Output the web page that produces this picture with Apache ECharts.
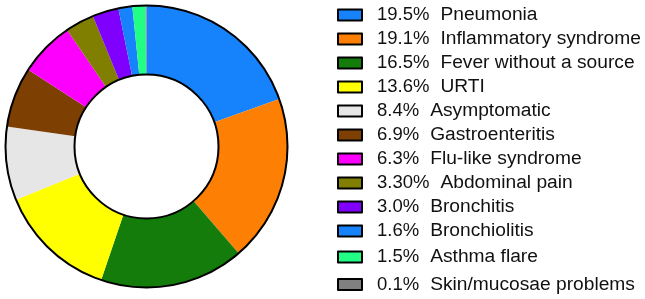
<!DOCTYPE html>
<html>
<head>
<meta charset="utf-8">
<script src="https://cdn.jsdelivr.net/npm/echarts@6/dist/echarts.min.js"></script>
<style>
html,body{margin:0;padding:0;background:#fff;}
#c{width:645px;height:299px;}
</style>
</head>
<body>
<div id="c"></div>
<script>
const categories = ["Pneumonia","Inflammatory syndrome","Fever without a source","URTI","Asymptomatic","Gastroenteritis","Flu-like syndrome","Abdominal pain","Bronchitis","Bronchiolitis","Asthma flare","Skin/mucosae problems"];
const values = [19.5,19.1,16.5,13.6,8.4,6.9,6.3,3.3,3.0,1.6,1.5,0.1];
const pctLabels = ["19.5%","19.1%","16.5%","13.6%","8.4%","6.9%","6.3%","3.30%","3.0%","1.6%","1.5%","0.1%"];
const colors = ["#1682fb","#fd8005","#137c0b","#ffff00","#e6e6e6","#7d3f02","#fd00fd","#807f02","#8000fe","#1682fb","#21fd85","#808080"];

const chart = echarts.init(document.getElementById('c'), null, {renderer:'canvas'});
const font = "'Liberation Sans', Arial, sans-serif";
const labelOf = {};
categories.forEach((c,i)=>labelOf[c]=pctLabels[i]);

function mkLegend(names, top){
  return {
    show:true, orient:'vertical', left:337, top:top, padding:0, itemGap:0,
    itemWidth:24, itemHeight:11, icon:'rect',
    itemStyle:{borderColor:'#000', borderWidth:2},
    selectedMode:false,
    data:names,
    formatter:(n)=>'{p|'+labelOf[n]+'}{n|'+n+'}',
    textStyle:{
      fontFamily:font, fontSize:18, color:'#111', lineHeight:24,
      rich:{
        p:{fontFamily:font, fontSize:18.5, color:'#111', padding:[0,0,0,10], lineHeight:24},
        n:{fontFamily:font, fontSize:19.2, color:'#111', padding:[0,0,0,11], lineHeight:24}
      }
    }
  };
}

chart.setOption({
  animation:false,
  backgroundColor:'#fff',
  legend:[
    mkLegend(categories.slice(0,10), 3),
    mkLegend([categories[10]], 245),
    mkLegend([categories[11]], 272.5)
  ],
  series:[
    {
      type:'pie', name:'dx', center:[146.5,146.5], radius:[72,141],
      startAngle:90, clockwise:true, avoidLabelOverlap:false,
      label:{show:false}, labelLine:{show:false},
      emphasis:{disabled:true}, silent:true,
      itemStyle:{borderWidth:0},
      data:categories.map((c,i)=>({name:c, value:values[i], itemStyle:{color:colors[i]}}))
    },
    {
      type:'pie', name:'outline', center:[146.5,146.5], radius:[72,141],
      startAngle:90, silent:true, z:5,
      label:{show:false}, labelLine:{show:false},
      emphasis:{disabled:true},
      itemStyle:{color:'rgba(0,0,0,0)', borderColor:'#000', borderWidth:2},
      data:[{name:'__ring', value:1}]
    }
  ]
});
</script>
</body>
</html>
